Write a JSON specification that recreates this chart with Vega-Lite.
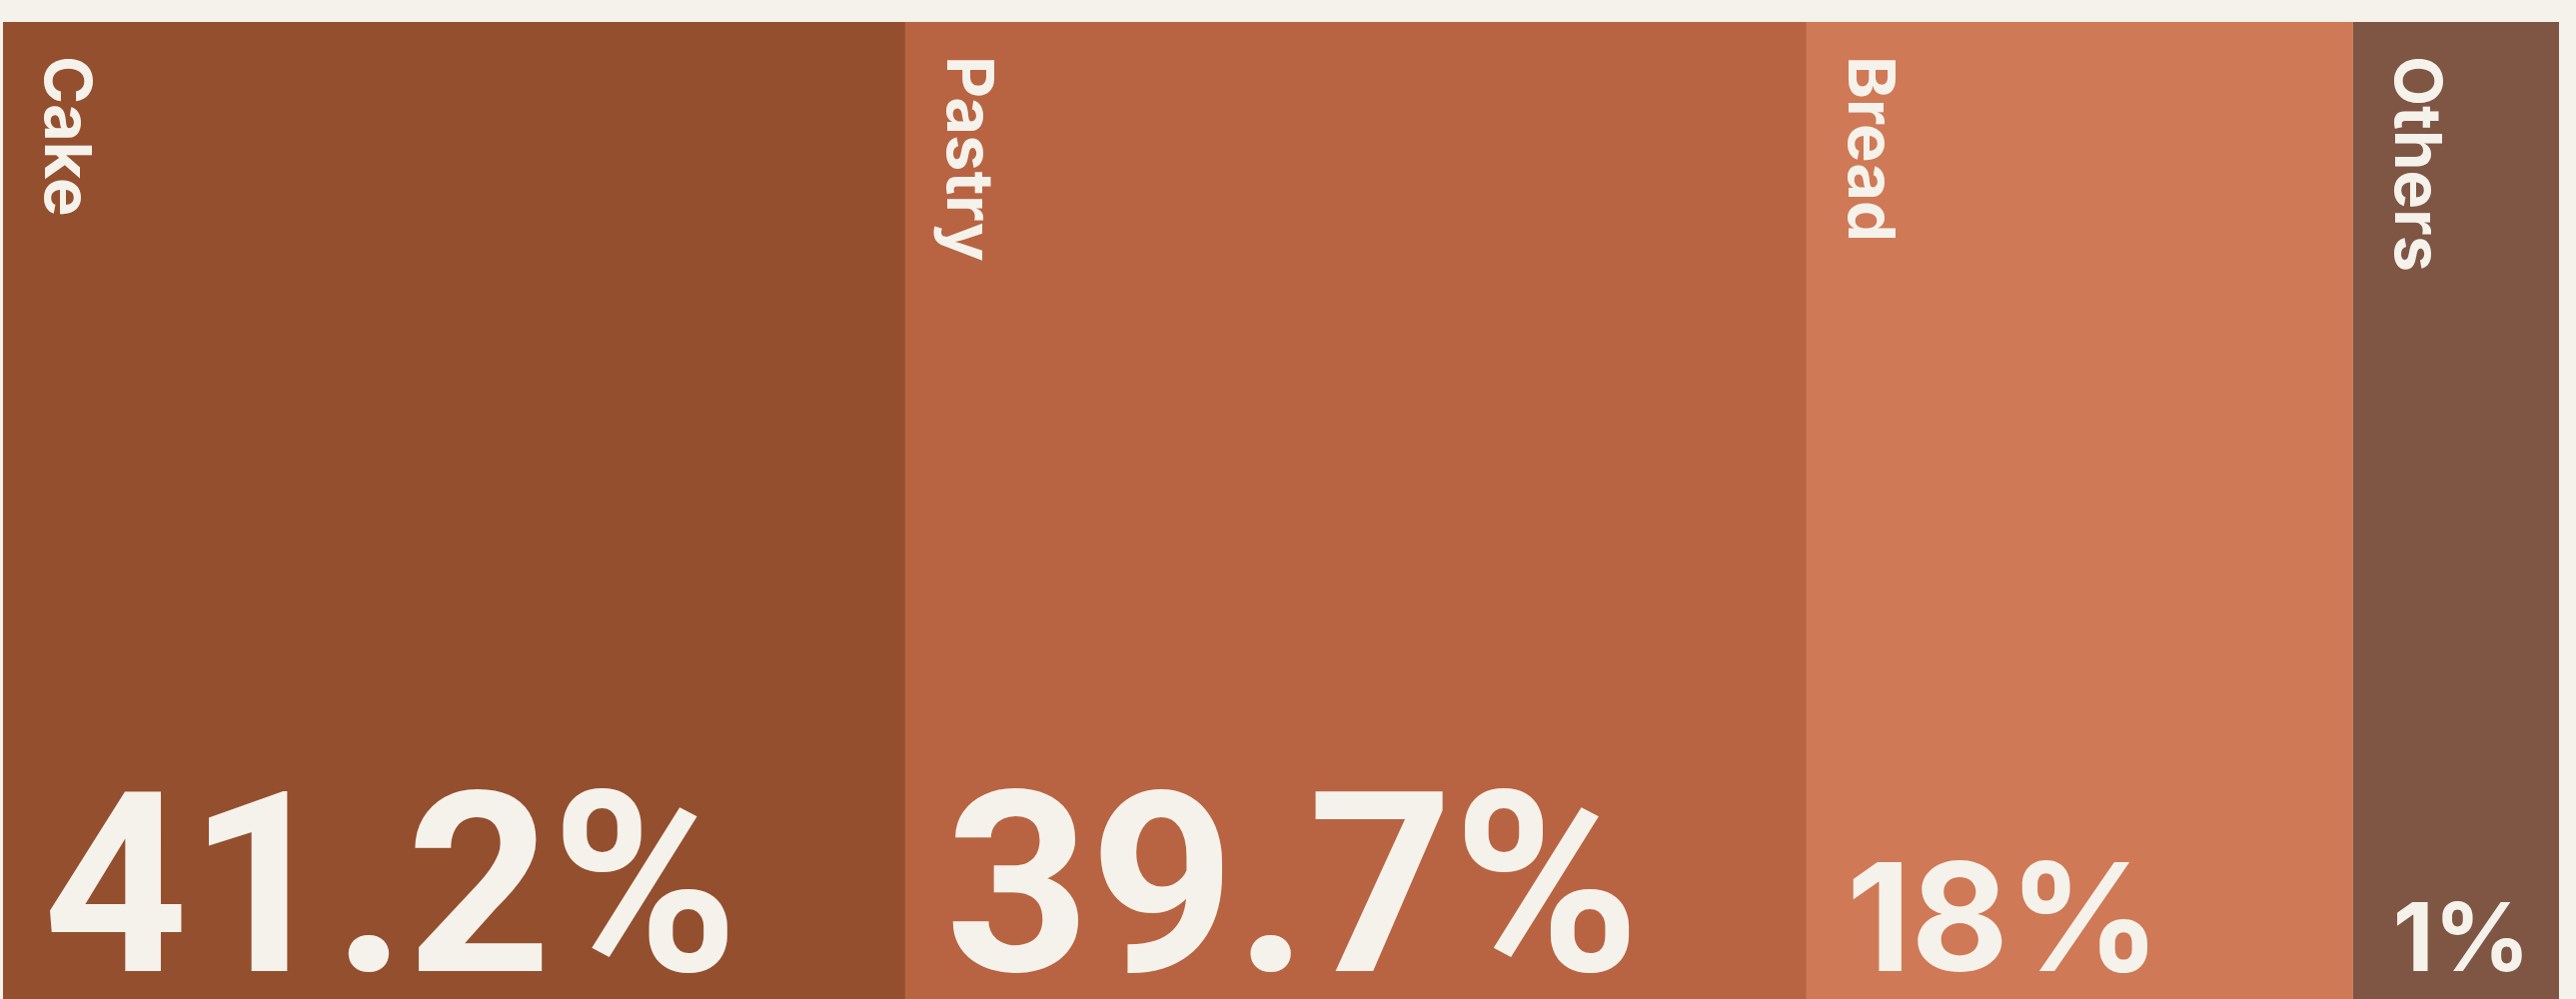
{
  "$schema": "https://vega.github.io/schema/vega-lite/v6.json",
  "width": 2558,
  "height": 978,
  "autosize": {"type": "none"},
  "padding": {"left": 3, "top": 22, "right": 17, "bottom": 0},
  "background": "#f5f2eb",
  "config": {"view": {"stroke": null}},
  "data": {
    "values": [
      {"order": 1, "category": "Cake", "share": 41.2, "label": "41.2%", "weight": 35.3},
      {"order": 2, "category": "Pastry", "share": 39.7, "label": "39.7%", "weight": 35.26},
      {"order": 3, "category": "Bread", "share": 18, "label": "18%", "weight": 21.38},
      {"order": 4, "category": "Others", "share": 1, "label": "1%", "weight": 8.06}
    ]
  },
  "transform": [
    {"stack": "weight", "groupby": [], "sort": [{"field": "order"}], "as": ["x0", "x1"]}
  ],
  "resolve": {"scale": {"y": "shared", "x": "shared"}},
  "layer": [
    {
      "mark": {"type": "rect"},
      "encoding": {
        "x": {"field": "x0", "type": "quantitative", "scale": {"domain": [0, 100], "nice": false, "zero": true}, "axis": null},
        "x2": {"field": "x1"},
        "y": {"datum": 0, "type": "quantitative", "scale": {"domain": [0, 1], "nice": false, "zero": true}, "axis": null},
        "y2": {"datum": 1},
        "color": {
          "field": "category",
          "type": "nominal",
          "scale": {"domain": ["Cake", "Pastry", "Bread", "Others"], "range": ["#944f2f", "#b86442", "#cf7956", "#7f5544"]},
          "legend": null
        }
      }
    },
    {
      "mark": {"type": "text", "angle": 90, "align": "left", "baseline": "alphabetic", "dx": 34, "dy": -42, "font": "Inter", "fontWeight": "bold", "fontSize": 65, "color": "#f5f2eb"},
      "encoding": {
        "x": {"field": "x0", "type": "quantitative"},
        "y": {"datum": 1, "type": "quantitative"},
        "text": {"field": "category"}
      }
    },
    {
      "transform": [{"filter": "datum.weight > 30"}],
      "mark": {"type": "text", "align": "left", "baseline": "alphabetic", "dx": 40, "dy": -28, "font": "Roboto", "fontWeight": "bold", "color": "#f5f2eb"},
      "encoding": {
        "x": {"field": "x0", "type": "quantitative"},
        "y": {"datum": 0, "type": "quantitative"},
        "size": {"field": "weight", "type": "quantitative", "scale": {"domain": [8.06, 21.38, 35.3], "range": [95, 150, 253]}, "legend": null},
        "text": {"field": "label"}
      }
    },
    {
      "transform": [{"filter": "datum.weight <= 30"}],
      "mark": {"type": "text", "align": "left", "baseline": "alphabetic", "dx": 40, "dy": -28, "font": "Inter", "fontWeight": "bold", "color": "#f5f2eb"},
      "encoding": {
        "x": {"field": "x0", "type": "quantitative"},
        "y": {"datum": 0, "type": "quantitative"},
        "size": {"field": "weight", "type": "quantitative"},
        "text": {"field": "label"}
      }
    }
  ]
}
